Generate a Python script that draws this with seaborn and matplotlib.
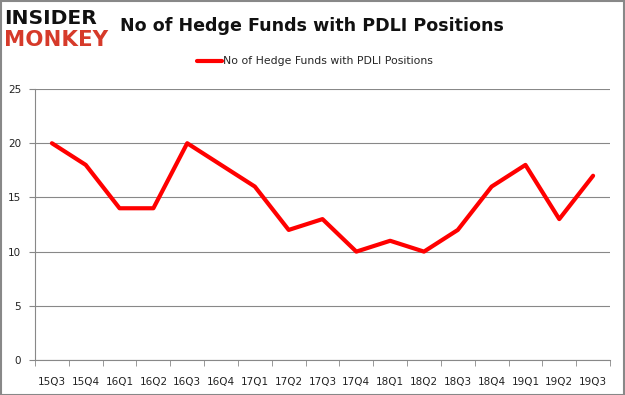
"""
Hedge fund holdings of PDLI by quarter, redrawn in seaborn.
"""

import matplotlib
matplotlib.use("Agg")
from matplotlib import pyplot as plt
import seaborn as sns
import pandas as pd

quarters = ["15Q3", "15Q4", "16Q1", "16Q2", "16Q3", "16Q4", "17Q1", "17Q2", "17Q3",
            "17Q4", "18Q1", "18Q2", "18Q3", "18Q4", "19Q1", "19Q2", "19Q3"]
n_funds = [20, 18, 14, 14, 20, 18, 16, 12, 13, 10, 11, 10, 12, 16, 18, 13, 17]
y_ticks = [0, 5, 10, 15, 20, 25]

label = "No of Hedge Funds with PDLI Positions"

sns.set_style("white")
plt.rcParams["font.family"] = ["DejaVu Sans"]

df = pd.DataFrame({"quarter": quarters, "funds": n_funds, "x": range(len(quarters))})

fig = plt.figure(figsize=[6.25, 3.95], dpi=100)
ax = fig.add_axes([0.056, 0.0886, 0.92, 0.686])

sns.lineplot(data=df, x="x", y="funds", ax=ax, color="#ff0000", linewidth=3,
             label=label, legend=False)

ax.set_xlim(-0.5, len(quarters) - 0.5)
ax.set_ylim(0, 25)
ax.set_yticks(y_ticks)
ax.set_xticks(range(len(quarters)))
ax.set_xticklabels(quarters)
ax.set_xticks([i - 0.5 for i in range(len(quarters) + 1)], minor=True)
ax.tick_params(axis="x", which="major", length=0, pad=12, labelsize=7.5, colors="#222222")
ax.tick_params(axis="x", which="minor", length=4, color="#888888", direction="out", bottom=True)
ax.tick_params(axis="y", length=4, color="#888888", direction="out", left=True,
               labelsize=7.5, colors="#222222", pad=6)
ax.set_xlabel("")
ax.set_ylabel("")
ax.grid(axis="y", color="#888888", linewidth=0.8)
ax.set_axisbelow(True)
for side in ["top", "right"]:
    ax.spines[side].set_visible(False)
for side in ["left", "bottom"]:
    ax.spines[side].set_color("#888888")
    ax.spines[side].set_linewidth(0.8)

ax.legend(loc="center", bbox_to_anchor=(0.487, 1.102), frameon=False,
          fontsize=7.8, handlelength=2.3, handletextpad=0.1, borderaxespad=0)

fig.text(0.192, 0.935, label, fontsize=12.6, fontweight="bold", va="center", ha="left",
         color="#111111")
fig.text(0.006, 0.953, "INSIDER", fontsize=14.6, fontweight="heavy", color="#111111",
         va="center", ha="left")
fig.text(0.006, 0.9, "MONKEY", fontsize=15.4, fontweight="heavy", color="#d63a2a",
         va="center", ha="left")

fig.patches.append(plt.Rectangle((0.001, 0.001), 0.997, 0.997, transform=fig.transFigure,
                                 fill=False, edgecolor="#888888", linewidth=1.5))

fig.savefig("out.png", dpi=100)
